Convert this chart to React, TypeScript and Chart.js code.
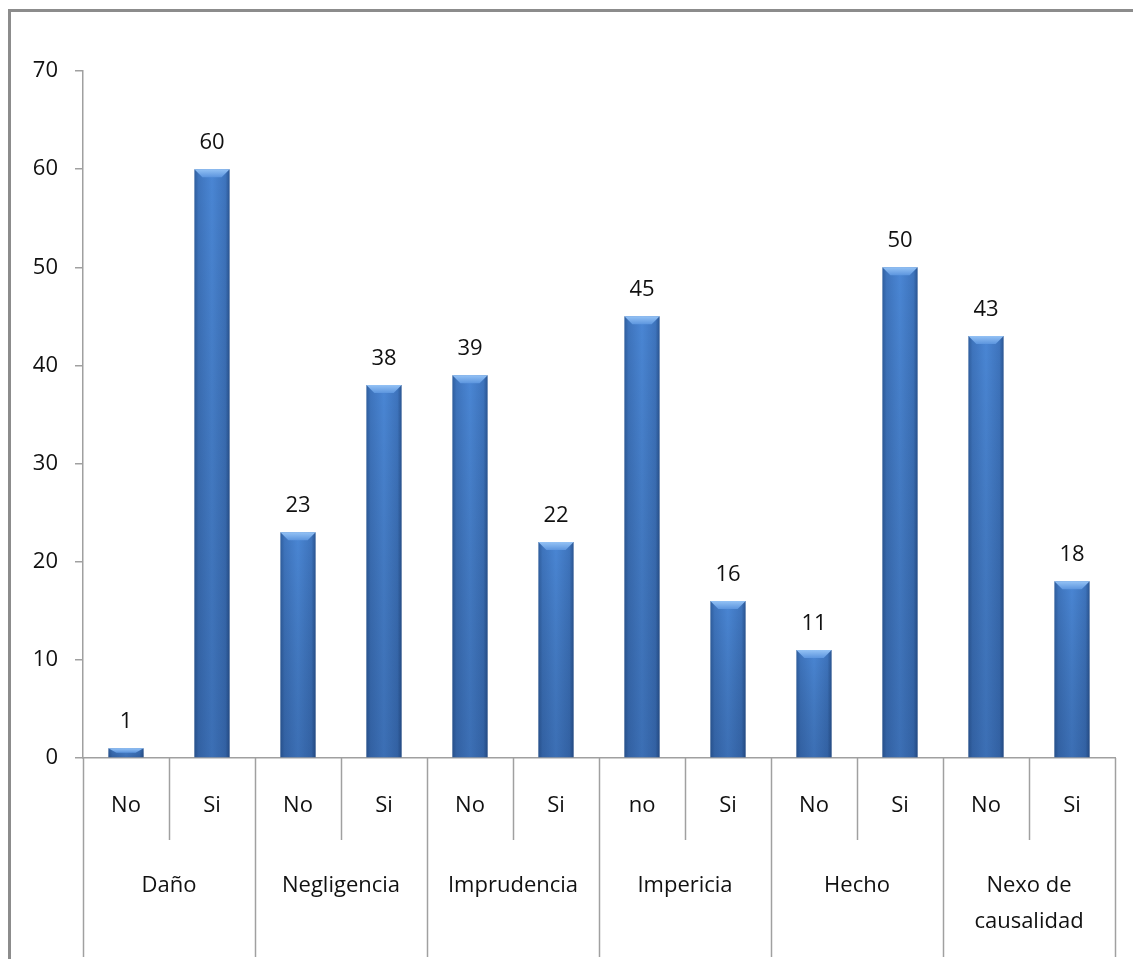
import React, { useEffect, useRef } from "react";
import { Chart, registerables } from "chart.js";

Chart.register(...registerables);

const subLabels = ["No", "Si", "No", "Si", "No", "Si", "no", "Si", "No", "Si", "No", "Si"];
const groupLabels: string[][] = [
  ["Daño"],
  ["Negligencia"],
  ["Imprudencia"],
  ["Impericia"],
  ["Hecho"],
  ["Nexo de", "causalidad"],
];
const values = [1, 60, 23, 38, 39, 22, 45, 16, 11, 50, 43, 18];
const yTicksMax = 70;
const yTicksStep = 10;

const FONT = "'Open Sans', sans-serif";
const FSIZE = 22;
const TEXT = "#111111";
const LINE = "#a0a0a0";

const barPlugin = {
  id: "barDecor",
  afterDatasetsDraw(chart: any) {
    const ctx = chart.ctx;
    const meta = chart.getDatasetMeta(0);
    meta.data.forEach((bar: any, i: number) => {
      const { x, y, base, width } = bar.getProps(["x", "y", "base", "width"], true);
      const l = x - width / 2;
      const r = x + width / 2;
      const h = base - y;
      ctx.save();
      const vg = ctx.createLinearGradient(0, y, 0, base);
      vg.addColorStop(0, "rgba(0,0,0,0)");
      vg.addColorStop(1, "rgba(10,30,70,0.22)");
      ctx.fillStyle = vg;
      ctx.fillRect(l, y, width, h);
      const b = Math.min(8, h / 2);
      const inset = Math.min(8, width / 4);
      const tg = ctx.createLinearGradient(0, y, 0, y + b);
      tg.addColorStop(0, "#94c2f5");
      tg.addColorStop(1, "#5c95de");
      ctx.fillStyle = tg;
      ctx.beginPath();
      ctx.moveTo(l, y);
      ctx.lineTo(r, y);
      ctx.lineTo(r - inset, y + b);
      ctx.lineTo(l + inset, y + b);
      ctx.closePath();
      ctx.fill();
      ctx.fillStyle = TEXT;
      ctx.font = `${FSIZE}px ${FONT}`;
      ctx.textAlign = "center";
      ctx.textBaseline = "alphabetic";
      ctx.fillText(String(values[i]), x, y - 20);
      ctx.restore();
    });
  },
  afterDraw(chart: any) {
    const ctx = chart.ctx;
    const xs = chart.scales.x;
    const area = chart.chartArea;
    const n = subLabels.length;
    const step = xs.getPixelForValue(1) - xs.getPixelForValue(0);
    const bottom = area.bottom;
    ctx.save();
    ctx.strokeStyle = LINE;
    ctx.lineWidth = 1.5;
    for (let i = 0; i <= n; i++) {
      const bx = Math.round(xs.getPixelForValue(0) - step / 2 + i * step) + 0.5;
      const end = i % 2 === 0 ? 957 : 840;
      ctx.beginPath();
      ctx.moveTo(bx, bottom);
      ctx.lineTo(bx, end);
      ctx.stroke();
    }
    ctx.fillStyle = TEXT;
    ctx.font = `${FSIZE}px ${FONT}`;
    ctx.textAlign = "center";
    ctx.textBaseline = "middle";
    subLabels.forEach((s, i) => {
      ctx.fillText(s, xs.getPixelForValue(i), 806);
    });
    groupLabels.forEach((lines, g) => {
      const cx = (xs.getPixelForValue(g * 2) + xs.getPixelForValue(g * 2 + 1)) / 2;
      lines.forEach((t, k) => {
        ctx.fillText(t, cx, 886 + k * 36);
      });
    });
    ctx.restore();
  },
};

export default function App() {
  const ref = useRef<HTMLCanvasElement | null>(null);
  useEffect(() => {
    if (!ref.current) return;
    const chart = new Chart(ref.current, {
      type: "bar",
      data: {
        labels: subLabels,
        datasets: [
          {
            data: values,
            categoryPercentage: 1,
            barPercentage: 0.41,
            backgroundColor: (c: any) => {
              const ch = c.chart;
              const xs = ch.scales?.x;
              if (!xs || !ch.chartArea) return "#4682d0";
              const cx = xs.getPixelForValue(c.dataIndex);
              const step = xs.getPixelForValue(1) - xs.getPixelForValue(0);
              const w = step * 0.41;
              const g = ch.ctx.createLinearGradient(cx - w / 2, 0, cx + w / 2, 0);
              g.addColorStop(0, "#2f5e9e");
              g.addColorStop(0.12, "#3e74bd");
              g.addColorStop(0.5, "#4a86d4");
              g.addColorStop(0.88, "#3e74bd");
              g.addColorStop(1, "#2a5592");
              return g;
            },
            borderWidth: 0,
          },
        ],
      },
      options: {
        animation: false,
        responsive: false,
        devicePixelRatio: 1,
        layout: { padding: { top: 71, right: 18, left: 0, bottom: 0 } },
        plugins: { legend: { display: false }, tooltip: { enabled: false } },
        scales: {
          x: {
            type: "category",
            ticks: { display: false },
            grid: { display: false },
            border: { display: true, color: LINE, width: 1.5 },
            afterFit: (s: any) => {
              s.height = 959 - 758;
            },
          },
          y: {
            min: 0,
            max: yTicksMax,
            ticks: {
              stepSize: yTicksStep,
              color: TEXT,
              font: { family: FONT, size: FSIZE },
              padding: 17,
            },
            grid: { drawOnChartArea: false, tickLength: 8, color: LINE, lineWidth: 1.5 },
            border: { display: true, color: LINE, width: 1.5 },
            afterFit: (s: any) => {
              s.width = 83;
            },
          },
        },
      },
      plugins: [barPlugin],
    });
    return () => chart.destroy();
  }, []);
  return (
    <>
      <canvas
        ref={ref}
        width={1133}
        height={959}
        style={{ position: "fixed", left: 0, top: 0, width: 1133, height: 959 }}
      />
      <div
        style={{
          position: "fixed",
          left: 8,
          top: 9,
          width: 1125,
          height: 950,
          boxSizing: "border-box",
          borderLeft: "3px solid #8c8c8c",
          borderTop: "3px solid #8c8c8c",
          pointerEvents: "none",
        }}
      />
    </>
  );
}
